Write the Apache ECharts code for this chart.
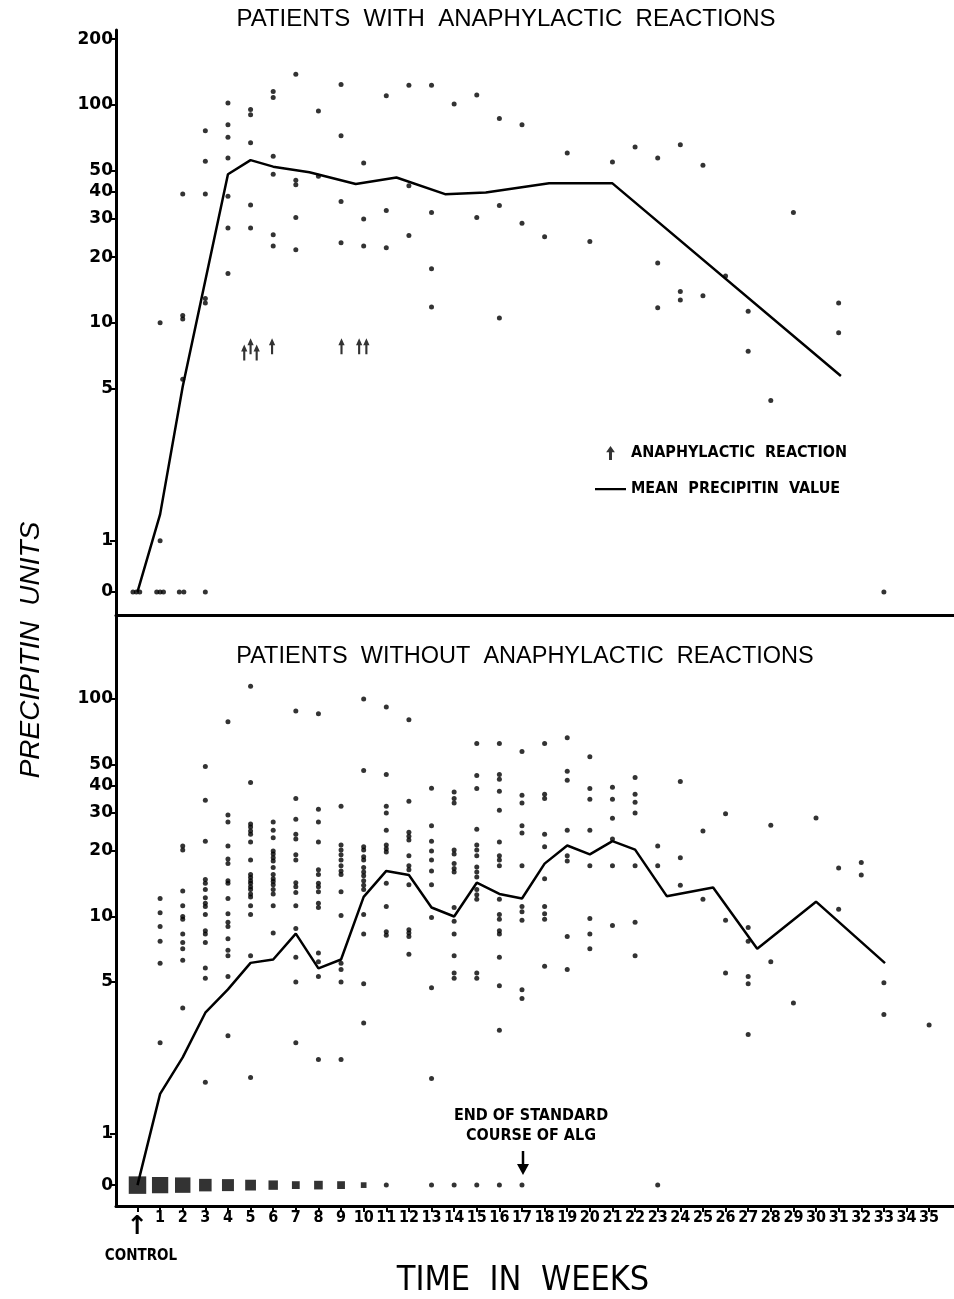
<!DOCTYPE html>
<html>
<head>
<meta charset="utf-8">
<script src="https://cdn.jsdelivr.net/npm/echarts@6/dist/echarts.min.js"></script>
<style>
html,body{margin:0;padding:0;background:#fff;}
#chart{width:954px;height:1299px;}
</style>
</head>
<body>
<div id="chart"></div>
<script>
// ---------------- DATA ----------------
const weekTicks = [0,1,2,3,4,5,6,7,8,9,10,11,12,13,14,15,16,17,18,19,20,21,22,23,24,25,26,27,28,29,30,31,32,33,34,35];
const topTickValues = [0,1,5,10,20,30,40,50,100,200];
const bottomTickValues = [0,1,5,10,20,30,40,50,100];

// Patients with anaphylactic reactions: [week, [precipitin units...]]
const topByWeek = [
  [1, [10, 1.0]],
  [2, [39, 10.8, 10.4, 5.5]],
  [3, [76, 55, 39, 12.9, 12.3]],
  [4, [102, 81, 71, 57, 38, 27.2, 16.8]],
  [5, [95, 90, 67, 34.7, 27.2]],
  [6, [115, 108, 58, 48, 25.3, 22.5]],
  [7, [138, 45, 43, 30.4, 21.6]],
  [8, [93.5, 47]],
  [9, [124, 72, 36, 23.3]],
  [10, [54, 29.9, 22.5]],
  [11, [110, 32.7, 22.1]],
  [12, [123, 42.5, 25.1]],
  [13, [123, 32, 17.7, 11.8]],
  [14, [100.7]],
  [15, [111, 30.4]],
  [16, [86.5, 34.5, 10.5]],
  [17, [81, 28.6]],
  [18, [24.8]],
  [19, [60]],
  [20, [23.6]],
  [21, [54.6]],
  [22, [64]],
  [23, [57, 18.8, 11.7]],
  [24, [65.5, 13.9, 12.7]],
  [25, [52.8, 13.3]],
  [26, [16.4]],
  [27, [11.3, 7.4]],
  [28, [4.4]],
  [29, [32]],
  [31, [12.3, 9.0]]
];
// weeks of patients with value 0 (overlapping marks drawn side by side)
const topZeroWeeks = [-0.2, -0.05, 0.1, 0.85, 1.0, 1.15, 1.85, 2.05, 3, 33];
// anaphylactic reaction markers [week, level]
const topReactions = [[4.72, 7.3], [5.0, 7.8], [5.27, 7.3], [5.95, 7.8], [9.02, 7.8], [9.8, 7.8], [10.12, 7.8]];
const topMeanWeeks  = [0, 1, 2, 4, 5, 6, 7.6, 9.65, 11.45, 13.6, 15.4, 18.2, 21, 31.1];
const topMeanValues = [0, 1.32, 5.1, 48, 55.7, 52, 49, 43.3, 46.4, 38.9, 39.6, 43.6, 43.6, 5.7];

// Patients without anaphylactic reactions
const bottomByWeek = [
  [1, [12.1, 10.4, 9.0, 7.7, 6.1, 2.63]],
  [2, [21.1, 20.2, 13.1, 11.2, 10.0, 9.7, 8.3, 7.6, 7.1, 6.3, 3.8]],
  [3, [48.9, 34.2, 22.2, 14.8, 14.2, 13.3, 12.2, 11.5, 11.1, 10.2, 8.6, 8.3, 7.6, 5.8, 5.2, 1.73]],
  [4, [78.5, 29.3, 27.2, 21.1, 18.4, 17.5, 14.6, 14.2, 12.1, 10.3, 9.4, 9.0, 7.9, 7.0, 6.6, 5.3, 2.83]],
  [5, [114.5, 41.3, 26.6, 25.8, 24.7, 23.9, 22.0, 18.2, 15.6, 15.1, 14.6, 14.2, 13.7, 13.3, 12.7, 12.3, 11.2, 10.2, 6.6, 1.82]],
  [6, [27.2, 24.9, 23.0, 20.0, 19.4, 18.6, 18.0, 16.8, 15.6, 14.9, 14.5, 14.0, 13.3, 12.7, 11.2, 8.4]],
  [7, [88, 34.9, 28, 23.9, 22.7, 19.2, 18.2, 14.3, 13.7, 12.9, 11.2, 8.8, 6.5, 5.0, 2.63]],
  [8, [85.5, 31.1, 27.2, 22.0, 16.4, 15.6, 14.2, 13.7, 13.0, 11.5, 11.0, 6.8, 6.2, 5.3, 2.2]],
  [9, [32.1, 21.3, 20.2, 19.2, 18.2, 17.1, 16.2, 15.6, 13.0, 10.1, 6.1, 5.7, 5.0, 2.2]],
  [10, [100, 46.9, 20.9, 20.2, 18.8, 18.2, 16.8, 16.0, 15.4, 14.6, 13.9, 13.3, 10.2, 8.3, 4.9, 3.24]],
  [11, [91.8, 45, 32.1, 29.9, 24.9, 21.3, 20.5, 19.8, 14.2, 11.1, 8.5, 8.2]],
  [12, [80.2, 33.9, 24.4, 23.4, 22.5, 19.0, 17.1, 16.4, 14.0, 8.7, 8.4, 8.1, 6.7]],
  [13, [38.9, 26.1, 22.2, 20.0, 18.2, 16.2, 14.0, 9.9, 4.7, 1.80]],
  [14, [37.3, 34.9, 33.2, 20.2, 19.4, 17.5, 16.6, 16.0, 11.0, 9.5, 8.3, 6.6, 5.5, 5.2]],
  [15, [62.4, 44.5, 38.8, 25.2, 21.3, 20.2, 19.0, 16.9, 16.0, 15.2, 13.3, 12.6, 12.0, 5.5, 5.2]],
  [16, [62.4, 45, 42.7, 37.6, 30.8, 22.0, 19.0, 18.2, 17.1, 12.0, 10.2, 9.7, 8.6, 8.3, 6.5, 4.8, 3.0]],
  [17, [57.3, 36.1, 33.2, 26.1, 24.2, 17.1, 11.1, 10.5, 9.6, 4.6, 4.2]],
  [18, [62.4, 36.5, 34.9, 23.9, 20.9, 14.9, 11.1, 10.3, 9.7, 5.9]],
  [19, [66.4, 46.5, 42.3, 24.9, 19.0, 18.0, 8.1, 5.7]],
  [20, [54.3, 38.8, 34.6, 24.9, 17.1, 9.8, 8.3, 7.1]],
  [21, [39.3, 34.6, 28.3, 22.7, 17.1, 9.1]],
  [22, [43.6, 36.5, 33.5, 29.9, 17.1, 9.4, 6.6]],
  [23, [21.1, 17.1]],
  [24, [41.7, 18.6, 13.9]],
  [25, [24.7, 12.0]],
  [26, [29.7, 9.6, 5.5]],
  [27, [8.9, 7.7, 5.3, 4.9, 2.87]],
  [28, [26.3, 6.2]],
  [29, [4.0]],
  [30, [28.4]],
  [31, [16.7, 10.8]],
  [32, [17.7, 15.5]],
  [33, [4.96, 3.54]],
  [35, [3.17]]
];
// number of patients at 0 precipitin units per week
const bottomZeroWeeks  = [0, 1, 2, 3, 4, 5, 6, 7, 8, 9, 10, 11, 13, 14, 15, 16, 17, 23];
const bottomZeroCounts = [22, 19, 17, 11, 10, 8, 6, 4, 5, 4, 2, 1, 1, 1, 1, 1, 1, 1];
const bottomMeanWeeks  = [0, 1, 2, 3, 4, 5, 6, 7, 8, 9, 10, 11, 12, 13, 14, 15, 16, 17, 18, 19, 20, 21, 22, 23.4, 25.45, 27.4, 30, 33.05];
const bottomMeanValues = [0, 1.53, 2.25, 3.61, 4.62, 6.12, 6.34, 8.34, 5.77, 6.34, 12.3, 16.2, 15.5, 11.0, 10.0, 14.3, 12.7, 12.1, 17.5, 21.2, 19.3, 22.2, 20.3, 12.4, 13.6, 7.1, 11.7, 6.1];

// ---------------- SCALE (broken log axis: 0 drawn below 1) ----------------
const ZERO_POS = -0.235;
const pos = v => (v <= 0 ? ZERO_POS : Math.log10(v));
const fmtY = v => (v < -0.1 ? '0' : String(Math.round(Math.pow(10, v))));

const flatten = groups => {
  const out = [];
  groups.forEach(([w, vals]) => vals.forEach(v => out.push([w, pos(v)])));
  return out;
};

const INK = '#000';
const ARROW_UP = 'path://M5 0 L10 7 L6.7 7 L6.7 16 L3.3 16 L3.3 7 L0 7 Z';
// thin horizontal line icon whose bounding box is 31x14 (tiny corner specks keep the box)
const LEGEND_LINE = 'path://M0 6 L31 6 L31 8.2 L0 8.2 Z M0 0 L0.01 0 L0 0.01 Z M31 14 L30.99 14 L31 13.99 Z';
const LBL_FONT = "'DejaVu Sans Condensed','Liberation Sans Narrow','DejaVu Sans',sans-serif";

const chart = echarts.init(document.getElementById('chart'), null, {renderer: 'canvas'});

const xCommon = {
  type: 'value', min: -0.95, max: 36.1,
  splitLine: {show: false},
  axisLine: {show: true, onZero: false, lineStyle: {color: INK, width: 3}}
};
const yCommon = {
  type: 'value',
  splitLine: {show: false},
  axisLine: {show: true, onZero: false, lineStyle: {color: INK, width: 3}},
  axisTick: {show: true, inside: false, length: 6, lineStyle: {color: INK, width: 2}},
  axisLabel: {color: INK, fontFamily: "'DejaVu Sans',sans-serif", fontWeight: 'bold', fontSize: 17, margin: 3, formatter: fmtY}
};

const option = {
  backgroundColor: '#fff',
  animation: false,
  title: [
    {text: 'PATIENTS  WITH  ANAPHYLACTIC  REACTIONS', left: 506, top: 7, padding: 0, textAlign: 'center',
     textStyle: {fontFamily: "'Liberation Sans',sans-serif", fontWeight: 'normal', fontSize: 24, color: INK}},
    {text: 'PATIENTS  WITHOUT  ANAPHYLACTIC  REACTIONS', left: 525, top: 645, padding: 0, textAlign: 'center',
     textStyle: {fontFamily: "'Liberation Sans',sans-serif", fontWeight: 'normal', fontSize: 23.5, color: INK}}
  ],
  legend: {
    data: [
      {name: 'ANAPHYLACTIC REACTION'},
      {name: 'MEAN PRECIPITIN VALUE', icon: LEGEND_LINE}
    ],
    orient: 'vertical', left: 590, top: 440, itemWidth: 31, itemHeight: 14, itemGap: 20,
    textStyle: {fontFamily: LBL_FONT, fontWeight: 'bold', fontSize: 16, color: INK},
    formatter: n => n.split(' ').join('  ')
  },
  grid: [
    {left: 116, right: 0, top: 30, height: 585},
    {left: 116, right: 0, top: 615, height: 595}
  ],
  xAxis: [
    Object.assign({}, xCommon, {gridIndex: 0, axisTick: {show: false}, axisLabel: {show: false}}),
    Object.assign({}, xCommon, {
      gridIndex: 1,
      axisTick: {show: true, inside: false, length: 6, customValues: weekTicks, lineStyle: {color: INK, width: 2}},
      axisLabel: {
        show: true, customValues: weekTicks, margin: 4, color: INK, showMinLabel: true, hideOverlap: false,
        fontFamily: LBL_FONT, fontWeight: 'bold', fontSize: 16,
        formatter: v => (Math.abs(v) < 1e-9 ? '{arr|↑}' : String(v)),
        rich: {
          arr: {fontFamily: "'DejaVu Sans',sans-serif", fontWeight: 'bold', fontSize: 26, lineHeight: 26,
                padding: [9, 0, 0, 0], color: INK}
        }
      },
      name: 'TIME  IN  WEEKS', nameLocation: 'middle', nameGap: 58,
      nameTextStyle: {fontFamily: "'Liberation Sans Narrow','DejaVu Sans Condensed',sans-serif", fontSize: 34, color: INK, padding: [0, 24, 0, 0]}
    })
  ],
  yAxis: [
    Object.assign({}, yCommon, {gridIndex: 0, min: -0.341, max: 2.343,
      axisTick: Object.assign({}, yCommon.axisTick, {customValues: topTickValues.map(pos)}),
      axisLabel: Object.assign({}, yCommon.axisLabel, {customValues: topTickValues.map(pos)})}),
    Object.assign({}, yCommon, {gridIndex: 1, min: -0.331, max: 2.386,
      axisTick: Object.assign({}, yCommon.axisTick, {customValues: bottomTickValues.map(pos)}),
      axisLabel: Object.assign({}, yCommon.axisLabel, {customValues: bottomTickValues.map(pos)})})
  ],
  series: [
    {type: 'scatter', name: 'top values', xAxisIndex: 0, yAxisIndex: 0, symbolSize: 5,
     itemStyle: {color: INK}, data: flatten(topByWeek), silent: true},
    {type: 'scatter', name: 'top zero', xAxisIndex: 0, yAxisIndex: 0, symbolSize: 5,
     itemStyle: {color: INK}, data: topZeroWeeks.map(w => [w, pos(0)]), silent: true},
    {type: 'scatter', name: 'ANAPHYLACTIC REACTION', xAxisIndex: 0, yAxisIndex: 0,
     symbol: ARROW_UP, symbolSize: [10, 16], symbolKeepAspect: true,
     itemStyle: {color: INK}, data: topReactions.map(([w, v]) => [w, pos(v)]), silent: true},
    {type: 'line', name: 'MEAN PRECIPITIN VALUE', xAxisIndex: 0, yAxisIndex: 0, symbol: 'none',
     lineStyle: {color: INK, width: 2.5}, itemStyle: {color: INK},
     data: topMeanWeeks.map((w, i) => [w, pos(topMeanValues[i])]), silent: true},

    {type: 'scatter', name: 'bottom values', xAxisIndex: 1, yAxisIndex: 1, symbolSize: 5,
     itemStyle: {color: INK}, data: flatten(bottomByWeek), silent: true},
    {type: 'scatter', name: 'bottom zero', xAxisIndex: 1, yAxisIndex: 1,
     symbol: v => (v[2] > 1 ? 'rect' : 'circle'),
     symbolSize: v => (v[2] > 1 ? 3.6 * Math.sqrt(v[2]) + 0.6 : 5),
     itemStyle: {color: INK}, data: bottomZeroWeeks.map((w, i) => [w, pos(0), bottomZeroCounts[i]]), silent: true},
    {type: 'line', name: 'MEAN PRECIPITIN VALUE', xAxisIndex: 1, yAxisIndex: 1, symbol: 'none',
     lineStyle: {color: INK, width: 2.5}, itemStyle: {color: INK},
     data: bottomMeanWeeks.map((w, i) => [w, pos(bottomMeanValues[i])]), silent: true}
  ],
  graphic: [
    {type: 'text', x: 31, y: 650, rotation: Math.PI / 2,
     style: {text: 'PRECIPITIN  UNITS', fill: INK, align: 'center', verticalAlign: 'middle',
             font: "italic 28px 'Liberation Sans', sans-serif"}},
    {type: 'text', x: 141, y: 1256,
     style: {text: 'CONTROL', fill: INK, align: 'center', verticalAlign: 'middle',
             font: "bold 15px 'DejaVu Sans Condensed','Liberation Sans Narrow',sans-serif"}},
    {type: 'text', x: 531, y: 1106,
     style: {text: 'END OF STANDARD\nCOURSE OF ALG', fill: INK, align: 'center', verticalAlign: 'top',
             font: "bold 16px 'DejaVu Sans Condensed','Liberation Sans Narrow',sans-serif", lineHeight: 20}},
    {type: 'line', shape: {x1: 523, y1: 1151, x2: 523, y2: 1166}, style: {stroke: INK, lineWidth: 2.5}},
    {type: 'polygon', shape: {points: [[517, 1164], [529, 1164], [523, 1175]]}, style: {fill: INK}}
  ]
};
chart.setOption(option);
</script>
</body>
</html>
